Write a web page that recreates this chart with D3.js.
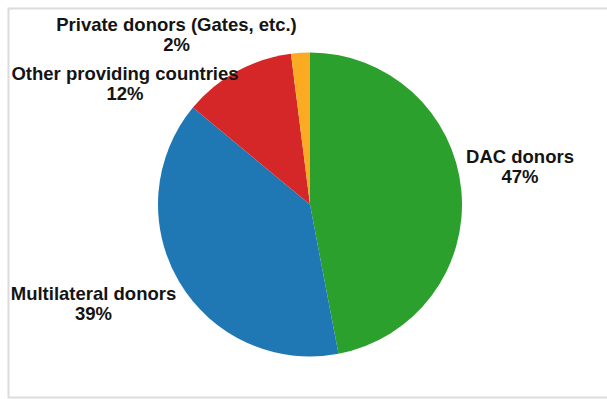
<!DOCTYPE html>
<html>
<head>
<meta charset="utf-8">
<script src="https://cdn.jsdelivr.net/npm/d3@7"></script>
<style>
  html, body { margin: 0; padding: 0; background: #fff; }
  svg { display: block; }
  text { font-family: "Liberation Sans", Arial, sans-serif; font-weight: bold; fill: #141414; }
</style>
</head>
<body>
<svg id="chart" width="607" height="399"></svg>
<script>
// Sources of aid, share of total (%)
const categories = ["DAC donors", "Multilateral donors", "Other providing countries", "Private donors (Gates, etc.)"];
const shares = [47, 39, 12, 2];
const colors = ["#2ca02c", "#1f77b4", "#d62728", "#fbab21"];

// Label anchor points (centre of each two-line label)
const labelAnchors = [[520, 163], [93.5, 300], [125, 80], [176.5, 31]];

const width = 607, height = 399;
const cx = 310, cy = 204.5, radius = 152;

const svg = d3.select("#chart");

// chart frame
svg.append("rect")
  .attr("x", 8.5).attr("y", 8.5)
  .attr("width", 640).attr("height", 389)
  .attr("fill", "none")
  .attr("stroke", "#dcdcdc")
  .attr("stroke-width", 2);

const data = categories.map((c, i) => ({ name: c, value: shares[i], color: colors[i], anchor: labelAnchors[i] }));

const pie = d3.pie().value(d => d.value).sort(null);
const arc = d3.arc().innerRadius(0).outerRadius(radius);

const g = svg.append("g").attr("transform", `translate(${cx},${cy})`);

g.selectAll("path")
  .data(pie(data))
  .join("path")
  .attr("d", arc)
  .attr("fill", d => d.data.color);

const labels = svg.selectAll("text.lbl")
  .data(data)
  .join("text")
  .attr("class", "lbl")
  .attr("text-anchor", "middle")
  .attr("font-size", 18.5)
  .attr("x", d => d.anchor[0])
  .attr("y", d => d.anchor[1]);

labels.append("tspan")
  .attr("x", d => d.anchor[0])
  .text(d => d.name);
labels.append("tspan")
  .attr("x", d => d.anchor[0])
  .attr("dy", 20)
  .text(d => d.value + "%");
</script>
</body>
</html>
